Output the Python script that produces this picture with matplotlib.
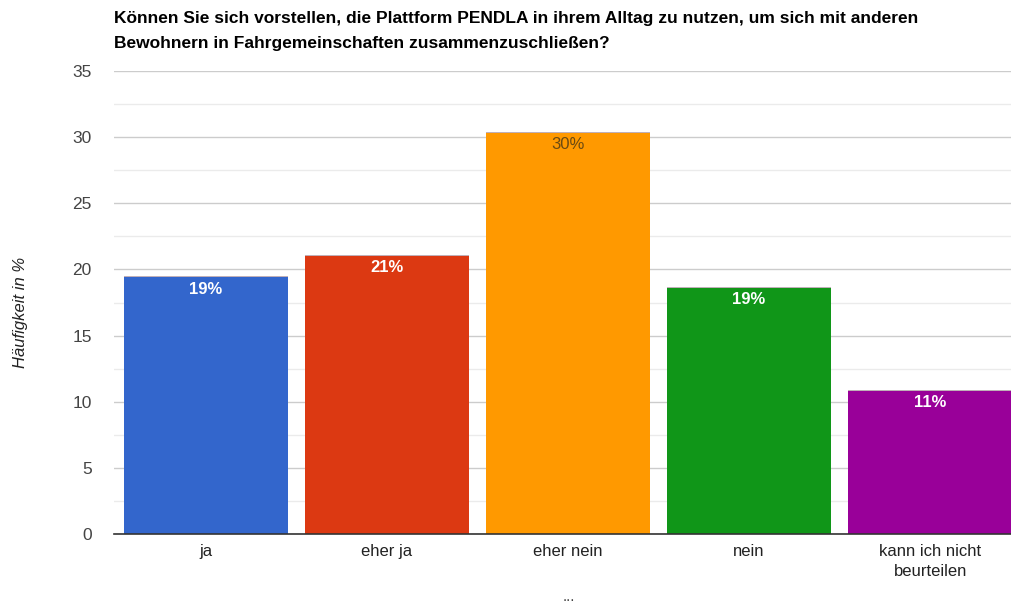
import matplotlib
matplotlib.use('Agg')
import matplotlib.pyplot as plt
from matplotlib.ticker import MultipleLocator

plt.rcParams['font.family'] = ['Liberation Sans', 'DejaVu Sans']

# Daten
kategorien = ['ja', 'eher ja', 'eher nein', 'nein', 'kann ich nicht\nbeurteilen']
haeufigkeit = [19.4, 21.0, 30.3, 18.6, 10.8]
beschriftung = ['19%', '21%', '30%', '19%', '11%']
farben = ['#3366cc', '#dc3912', '#ff9900', '#109618', '#990099']
text_farben = ['white', 'white', '#6b4a12', 'white', 'white']

titel = ('Können Sie sich vorstellen, die Plattform PENDLA in ihrem Alltag zu nutzen, um sich mit anderen\n'
         'Bewohnern in Fahrgemeinschaften zusammenzuschließen?')

fig = plt.figure(figsize=(10.12, 6.06), dpi=100)
ax = fig.add_axes([0.1126, 0.1188, 0.8874, 0.764])

x = range(len(kategorien))
bars = ax.bar(x, haeufigkeit, width=0.905, color=farben, zorder=3)
# feine Oberkante wie im Original
ax.bar(x, [0.09] * len(kategorien), bottom=haeufigkeit, width=0.905,
       color='#c0b0b8', zorder=3)

for b, lab, tc in zip(bars, beschriftung, text_farben):
    ax.annotate(lab, (b.get_x() + b.get_width() / 2, b.get_height()),
                xytext=(0, -3), textcoords='offset points',
                ha='center', va='top', fontsize=12,
                fontweight='bold' if tc == 'white' else 'normal',
                color=tc, zorder=4)

ax.set_xlim(-0.507, 4.452)
ax.set_ylim(0, 35)
ax.yaxis.set_major_locator(MultipleLocator(5))
ax.yaxis.set_minor_locator(MultipleLocator(2.5))
ax.grid(True, which='major', axis='y', color='#cccccc', linewidth=1, zorder=0)
ax.grid(True, which='minor', axis='y', color='#ebebeb', linewidth=1, zorder=0)

for s in ['top', 'right', 'left']:
    ax.spines[s].set_visible(False)
ax.spines['bottom'].set_color('#333333')
ax.spines['bottom'].set_linewidth(1.2)
ax.spines['bottom'].set_zorder(5)

ax.set_xticks(list(x))
ax.set_xticklabels(kategorien, fontsize=12, color='#222222', linespacing=1.4)
ax.tick_params(axis='x', length=0, pad=7)
ax.tick_params(axis='y', which='both', length=0, pad=16, labelsize=12.5, labelcolor='#444444')

fig.text(0.02, 0.485, 'Häufigkeit in %', rotation=90, ha='center', va='center',
         fontsize=12, style='italic', color='#222222')
fig.text(0.113, 0.982, titel, ha='left', va='top', fontsize=12.5,
         fontweight='bold', color='#000000', linespacing=1.8)
fig.text(0.562, 0.003, '...', ha='center', va='bottom', fontsize=11, color='#444444')

plt.savefig('out.png', dpi=100)
plt.close()
